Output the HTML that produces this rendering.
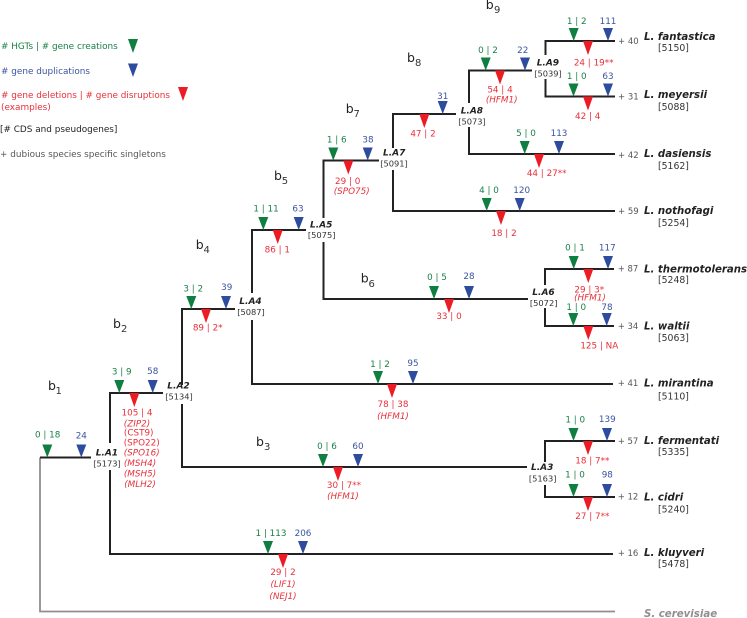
<!DOCTYPE html>
<html><head><meta charset="utf-8"><style>
html,body{margin:0;padding:0;background:#fff}
svg{display:block}
text{font-family:"DejaVu Sans",sans-serif;font-size:8.8px}
.g{fill:#1a8048;text-anchor:middle}.b{fill:#3a55a0;text-anchor:middle}.r{fill:#e8303a;text-anchor:middle}
.i{font-style:italic}
.n{font-weight:bold;font-style:italic;font-size:9px;fill:#222}
.c{fill:#333;text-anchor:middle;font-size:8.3px}
.p{fill:#555;font-size:8.5px}
.s{font-weight:bold;font-style:italic;font-size:10.2px;fill:#222}
.d{fill:#333;font-size:9.3px}
.bb{font-size:12.5px;fill:#222}.bs{font-size:10px;fill:#333}
.l{font-size:8.9px}
.tg{fill:#0f7f41}.tb{fill:#2e4c9e}.tr{fill:#ed1c24}
</style></head><body>
<svg width="747" height="618" viewBox="0 0 747 618" xmlns="http://www.w3.org/2000/svg">
<g fill="none" stroke="#8f8f8f" stroke-width="1.8"><path d="M40 457.5V611.5H615"/></g>
<g fill="none" stroke="#222" stroke-width="2">
<path d="M40 457.5H91"/>
<path d="M163 393H110V443M110 470V554H613"/>
<path d="M235 309H182V385M182 404V467H527"/>
<path d="M306 230H252V293M252 320V384H613"/>
<path d="M379 160.5H323.5V218M323.5 242V299H528"/>
<path d="M456 114H393V148M393 170V211H615"/>
<path d="M532 70.500H469V103M469 127V154H615"/>
<path d="M615 41H545.500V55M545.500 79V96.500H615"/>
<path d="M614 269H545V285M545 308V326H614"/>
<path d="M615 441H545V462M545 485V497H615"/>
</g>
<!-- green triangles -->
<g class="tg">
<polygon points="128,39 138,39 133,53"/>
<polygon points="568.700,28 578.700,28 573.700,41"/>
<polygon points="568.500,83.500 578.500,83.500 573.500,96.500"/>
<polygon points="480.700,57.500 490.700,57.500 485.700,70.500"/>
<polygon points="519.700,141 529.700,141 524.700,154"/>
<polygon points="481.700,198 491.700,198 486.700,211"/>
<polygon points="328.300,147.500 338.300,147.500 333.300,160.500"/>
<polygon points="258.300,217 268.300,217 263.300,230"/>
<polygon points="186.300,296 196.300,296 191.300,309"/>
<polygon points="429,286 439,286 434,299"/>
<polygon points="568.700,256 578.700,256 573.700,269"/>
<polygon points="568.300,313 578.300,313 573.300,326"/>
<polygon points="373,371 383,371 378,384"/>
<polygon points="568.500,428 578.500,428 573.500,441"/>
<polygon points="568.500,484 578.500,484 573.500,497"/>
<polygon points="318,454 328,454 323,467"/>
<polygon points="263,541 273,541 268,554"/>
<polygon points="114.300,380 124.300,380 119.300,393"/>
<polygon points="42.300,444.500 52.300,444.500 47.300,457.500"/>
</g>
<!-- blue triangles -->
<g class="tb">
<polygon points="128,63.500 138,63.500 133,77"/>
<polygon points="603,28 613,28 608,41"/>
<polygon points="603,83.500 613,83.500 608,96.500"/>
<polygon points="520,57.500 530,57.500 525,70.500"/>
<polygon points="554,141 564,141 559,154"/>
<polygon points="514.700,198 524.700,198 519.700,211"/>
<polygon points="437.700,101 447.700,101 442.700,114"/>
<polygon points="362.700,147.500 372.700,147.500 367.700,160.500"/>
<polygon points="293.700,217 303.700,217 298.700,230"/>
<polygon points="221,296 231,296 226,309"/>
<polygon points="464,286 474,286 469,299"/>
<polygon points="603,256 613,256 608,269"/>
<polygon points="601.700,313 611.700,313 606.700,326"/>
<polygon points="408,371 418,371 413,384"/>
<polygon points="602,428 612,428 607,441"/>
<polygon points="602,484 612,484 607,497"/>
<polygon points="353,454 363,454 358,467"/>
<polygon points="298,541 308,541 303,554"/>
<polygon points="147.700,380 157.700,380 152.700,393"/>
<polygon points="76.300,444.500 86.300,444.500 81.300,457.500"/>
</g>
<!-- red triangles -->
<g class="tr">
<polygon points="178,87 188,87 183,101"/>
<polygon points="583,41 593,41 588,55"/>
<polygon points="583,96.500 593,96.500 588,110.500"/>
<polygon points="495,70.500 505,70.500 500,84.500"/>
<polygon points="534,154 544,154 539,168"/>
<polygon points="496,211 506,211 501,225"/>
<polygon points="419.300,114 429.300,114 424.300,128"/>
<polygon points="343.300,160.500 353.300,160.500 348.300,174.500"/>
<polygon points="272.700,230 282.700,230 277.700,244"/>
<polygon points="201,309 211,309 206,323"/>
<polygon points="444,299 454,299 449,313"/>
<polygon points="583.300,269 593.300,269 588.300,283"/>
<polygon points="583.300,326 593.300,326 588.300,340"/>
<polygon points="387,384 397,384 392,398"/>
<polygon points="583,441 593,441 588,455"/>
<polygon points="583,497 593,497 588,511"/>
<polygon points="333,467 343,467 338,481"/>
<polygon points="278,554 288,554 283,568"/>
<polygon points="129.300,393 139.300,393 134.300,407"/>
</g>
<!-- legend -->
<text x="1" y="49" class="l" style="fill:#1a8048"># HGTs | # gene creations</text>
<text x="1" y="74" class="l" style="fill:#3a55a0"># gene duplications</text>
<text x="1" y="98" class="l" style="fill:#e8303a"># gene deletions | # gene disruptions</text>
<text x="1" y="110" class="l" style="fill:#e8303a">(examples)</text>
<text x="0" y="132" class="l" style="fill:#222">[# CDS and pseudogenes]</text>
<text x="0" y="157" class="l" style="fill:#555">+ dubious species specific singletons</text>
<!-- branch labels -->
<text x="48" y="390" class="bb">b</text><text x="55.500" y="394" class="bs">1</text>
<text x="113" y="328" class="bb">b</text><text x="121" y="332" class="bs">2</text>
<text x="256" y="446" class="bb">b</text><text x="264" y="450" class="bs">3</text>
<text x="195.700" y="249" class="bb">b</text><text x="203.500" y="253" class="bs">4</text>
<text x="274" y="180" class="bb">b</text><text x="281.700" y="184" class="bs">5</text>
<text x="360.700" y="282.700" class="bb">b</text><text x="368.500" y="287" class="bs">6</text>
<text x="345.700" y="113" class="bb">b</text><text x="353.500" y="117" class="bs">7</text>
<text x="407" y="62" class="bb">b</text><text x="415" y="66" class="bs">8</text>
<text x="485.700" y="9" class="bb">b</text><text x="494" y="13" class="bs">9</text>
<!-- green numbers -->
<text x="576.700" y="24" class="g">1 | 2</text>
<text x="576.700" y="79" class="g">1 | 0</text>
<text x="488" y="53" class="g">0 | 2</text>
<text x="526" y="136" class="g">5 | 0</text>
<text x="489" y="193" class="g">4 | 0</text>
<text x="336.700" y="142.700" class="g">1 | 6</text>
<text x="266" y="211.700" class="g">1 | 11</text>
<text x="193.300" y="291.300" class="g">3 | 2</text>
<text x="437" y="280" class="g">0 | 5</text>
<text x="575" y="250.700" class="g">0 | 1</text>
<text x="576.300" y="310" class="g">1 | 0</text>
<text x="380" y="367" class="g">1 | 2</text>
<text x="575.300" y="422.300" class="g">1 | 0</text>
<text x="575" y="477.700" class="g">1 | 0</text>
<text x="327" y="449" class="g">0 | 6</text>
<text x="271" y="536" class="g">1 | 113</text>
<text x="121.700" y="374.700" class="g">3 | 9</text>
<text x="47.700" y="437.300" class="g">0 | 18</text>
<!-- blue numbers -->
<text x="608" y="24" class="b">111</text>
<text x="608" y="79" class="b">63</text>
<text x="522.700" y="53" class="b">22</text>
<text x="559" y="136" class="b">113</text>
<text x="521.700" y="193" class="b">120</text>
<text x="442.700" y="99" class="b">31</text>
<text x="368" y="142.700" class="b">38</text>
<text x="298" y="211.700" class="b">63</text>
<text x="226.700" y="290" class="b">39</text>
<text x="469" y="279" class="b">28</text>
<text x="607.300" y="250.700" class="b">117</text>
<text x="607" y="310" class="b">78</text>
<text x="413" y="366" class="b">95</text>
<text x="607.300" y="422" class="b">139</text>
<text x="607.300" y="477.700" class="b">98</text>
<text x="358" y="449" class="b">60</text>
<text x="303" y="536" class="b">206</text>
<text x="152.700" y="374" class="b">58</text>
<text x="81.300" y="438.700" class="b">24</text>
<!-- red numbers -->
<text x="593.700" y="65.500" class="r">24 | 19**</text>
<text x="587.700" y="119" class="r">42 | 4</text>
<text x="500" y="92.500" class="r">54 | 4</text>
<text x="501.700" y="102.500" class="r i">(HFM1)</text>
<text x="546.700" y="176" class="r">44 | 27**</text>
<text x="504" y="236" class="r">18 | 2</text>
<text x="423" y="136.700" class="r">47 | 2</text>
<text x="347.700" y="184" class="r">29 | 0</text>
<text x="351.700" y="194" class="r i">(SPO75)</text>
<text x="277.300" y="252.300" class="r">86 | 1</text>
<text x="207.700" y="330.700" class="r">89 | 2*</text>
<text x="449" y="319" class="r">33 | 0</text>
<text x="589.300" y="292.700" class="r">29 | 3*</text>
<text x="590" y="300.700" class="r i">(HFM1)</text>
<text x="599.300" y="348.700" class="r">125 | NA</text>
<text x="393" y="407" class="r">78 | 38</text>
<text x="393" y="419" class="r i">(HFM1)</text>
<text x="592.300" y="463.300" class="r">18 | 7**</text>
<text x="592.300" y="519" class="r">27 | 7**</text>
<text x="344" y="488" class="r">30 | 7**</text>
<text x="343" y="499" class="r i">(HFM1)</text>
<text x="283" y="575" class="r">29 | 2</text>
<text x="283" y="587" class="r i">(LIF1)</text>
<text x="283" y="599" class="r i">(NEJ1)</text>
<text x="137" y="415.300" class="r">105 | 4</text>
<text x="137" y="426.700" class="r i">(ZIP2)</text>
<text x="138.700" y="435.700" class="r">(CST9)</text>
<text x="141.700" y="445.700" class="r">(SPO22)</text>
<text x="141.700" y="455.700" class="r i">(SPO16)</text>
<text x="140" y="466" class="r i">(MSH4)</text>
<text x="140" y="476.300" class="r i">(MSH5)</text>
<text x="140" y="487" class="r i">(MLH2)</text>
<!-- nodes -->
<text x="95.700" y="455.700" class="n">L.A1</text><text x="107" y="466.700" class="c">[5173]</text>
<text x="167.300" y="388.300" class="n">L.A2</text><text x="179" y="399.300" class="c">[5134]</text>
<text x="531" y="470" class="n">L.A3</text><text x="542.700" y="481.700" class="c">[5163]</text>
<text x="239.300" y="304" class="n">L.A4</text><text x="251" y="315" class="c">[5087]</text>
<text x="310" y="227.700" class="n">L.A5</text><text x="321.700" y="238" class="c">[5075]</text>
<text x="532.300" y="295" class="n">L.A6</text><text x="543.700" y="306" class="c">[5072]</text>
<text x="383" y="155.700" class="n">L.A7</text><text x="394" y="166.700" class="c">[5091]</text>
<text x="460.700" y="113.500" class="n">L.A8</text><text x="472" y="124.500" class="c">[5073]</text>
<text x="536.700" y="65.700" class="n">L.A9</text><text x="548" y="76.500" class="c">[5039]</text>
<!-- singletons -->
<text x="618" y="44" class="p">+ 40</text>
<text x="618" y="99.500" class="p">+ 31</text>
<text x="618" y="158" class="p">+ 42</text>
<text x="618" y="214" class="p">+ 59</text>
<text x="617.700" y="271.700" class="p">+ 87</text>
<text x="617.700" y="329" class="p">+ 34</text>
<text x="617.700" y="386" class="p">+ 41</text>
<text x="617.700" y="444" class="p">+ 57</text>
<text x="617.700" y="499.300" class="p">+ 12</text>
<text x="617.700" y="556" class="p">+ 16</text>
<!-- species -->
<text x="644" y="40" class="s">L. fantastica</text><text x="658" y="51" class="d">[5150]</text>
<text x="644" y="98" class="s">L. meyersii</text><text x="658" y="110" class="d">[5088]</text>
<text x="644" y="157" class="s">L. dasiensis</text><text x="658" y="169" class="d">[5162]</text>
<text x="644" y="214" class="s">L. nothofagi</text><text x="658" y="226" class="d">[5254]</text>
<text x="644" y="272.300" class="s">L. thermotolerans</text><text x="658" y="283" class="d">[5248]</text>
<text x="644" y="329.700" class="s">L. waltii</text><text x="658" y="341" class="d">[5063]</text>
<text x="644" y="386.700" class="s">L. mirantina</text><text x="658" y="399.300" class="d">[5110]</text>
<text x="644" y="444" class="s">L. fermentati</text><text x="658" y="455" class="d">[5335]</text>
<text x="644" y="500.700" class="s">L. cidri</text><text x="658" y="512.700" class="d">[5240]</text>
<text x="644" y="556" class="s">L. kluyveri</text><text x="658" y="567" class="d">[5478]</text>
<text x="644" y="617" class="s" style="fill:#8f8f8f">S. cerevisiae</text>
</svg>
</body></html>
